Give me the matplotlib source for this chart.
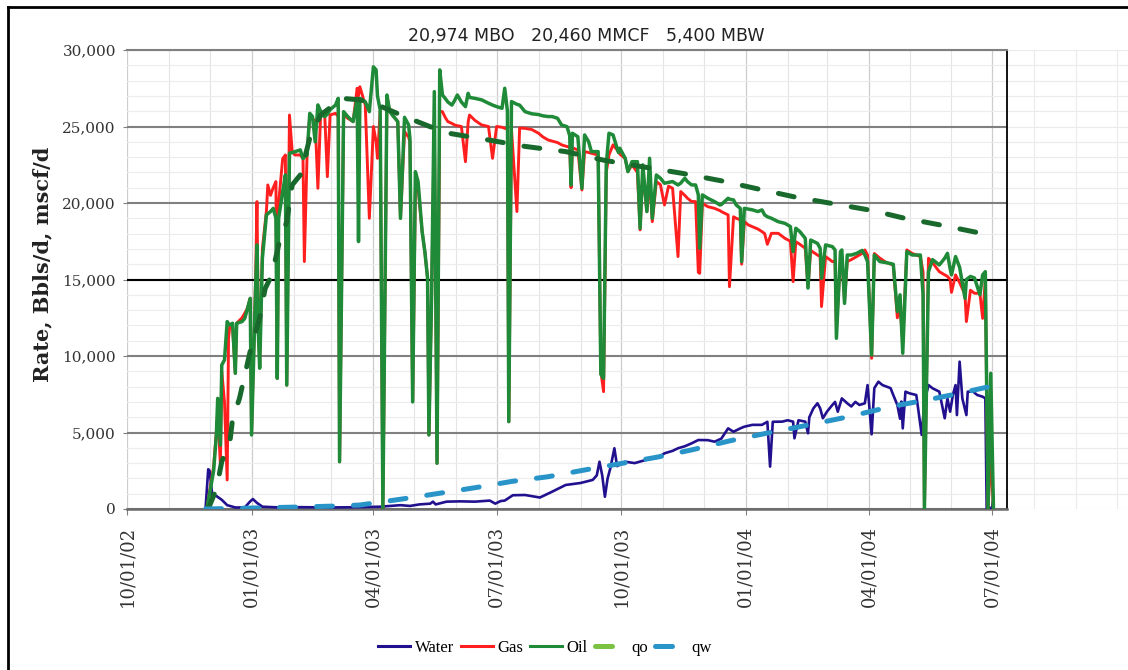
import matplotlib
matplotlib.use('Agg')
import matplotlib.pyplot as plt
import matplotlib.dates as mdates
import pandas as pd
from matplotlib.lines import Line2D
from matplotlib.ticker import MultipleLocator, FuncFormatter

# days counted from 10/01/02
t0 = pd.Timestamp('2002-10-01')

# daily oil / gas rates (same days for both streams)
prod_day = [59, 64, 66, 67, 69, 70, 72, 74, 75, 76, 78, 80, 81, 85, 87, 89, 91, 92, 95, 96,
            97, 98, 100, 103, 104, 106, 108, 110, 111, 112, 115, 117, 118, 120, 122, 124, 128, 130, 131, 133,
            135, 137, 139, 141, 143, 144, 146, 148, 150, 154, 156, 157, 160, 163, 167, 170, 171, 172, 176, 179,
            182, 184, 185, 187, 189, 192, 194, 196, 200, 202, 205, 208, 209, 211, 213, 215, 218, 220, 222, 223,
            225, 227, 229, 231, 233, 235, 237, 240, 242, 244, 247, 250, 252, 253, 257, 262, 267, 270, 273, 277,
            279, 281, 282, 284, 288, 290, 294, 299, 304, 307, 311, 314, 318, 321, 325, 327, 328, 329, 333, 336,
            338, 341, 343, 348, 350, 352, 354, 356, 359, 363, 364, 368, 370, 373, 377, 379, 381, 384, 386, 388,
            391, 394, 397, 400, 403, 407, 409, 412, 414, 417, 420, 422, 423, 425, 429, 434, 438, 439, 444, 445,
            448, 450, 453, 454, 456, 459, 462, 466, 469, 471, 473, 476, 481, 486, 490, 492, 494, 497, 501, 503,
            505, 510, 512, 513, 516, 521, 523, 524, 527, 528, 530, 532, 535, 539, 543, 545, 547, 550, 552, 556,
            561, 566, 569, 571, 573, 576, 580, 586, 588, 589, 592, 595, 600, 604, 606, 608, 609, 612, 615, 619,
            620, 623, 626, 630, 632, 634, 636, 638, 640]
oil_rate = [0, 2500, 4840, 7230, 4180, 9410, 9740, 12250, 12100, 12030, 12140, 8870, 12140, 12250, 12460, 13120, 13770, 4840, 14500, 17260,
            11590, 9200, 16390, 19220, 19300, 19440, 19650, 19000, 8540, 19000, 20740, 21830, 8100, 23250, 23300, 23350, 23470, 22900, 23000, 23140,
            25860, 25650, 24000, 26410, 26000, 25750, 25650, 25800, 26100, 26400, 26840, 3090, 25970, 25650, 25320, 26840, 17480, 26840, 26620, 25970,
            28900, 28700, 27000, 26100, 0, 27060, 26000, 25750, 25320, 19000, 25600, 25100, 24200, 7000, 22050, 21400, 18130, 16820, 15100, 4840,
            14000, 27280, 2990, 28700, 27060, 26840, 26600, 26400, 26700, 27060, 26600, 26300, 27170, 26900, 26840, 26740, 26520, 26400, 26300, 26190,
            27500, 26000, 5710, 26630, 26450, 26400, 25970, 25830, 25780, 25700, 25650, 25650, 25540, 25100, 24990, 24400, 21180, 24560, 24330, 20960,
            24450, 24000, 23360, 23360, 8800, 8540, 22500, 24560, 24450, 23300, 23580, 22920, 22050, 22700, 22700, 18350, 22490, 19440, 22920, 19000,
            21830, 21620, 21290, 21350, 21400, 21180, 21300, 21620, 21400, 21180, 21180, 20530, 17040, 20530, 20310, 20090, 19870, 19900, 20310, 20250,
            20200, 19870, 19650, 16170, 19650, 19600, 19550, 19440, 19550, 19220, 19100, 19000, 18780, 18670, 18460, 16820, 18350, 18130, 17690, 14440,
            17580, 17360, 17040, 15080, 17260, 17150, 16930, 11160, 16820, 16930, 13440, 16600, 16600, 16710, 16900, 16600, 16170, 10070, 16600, 16170,
            16100, 16000, 12900, 14000, 10180, 16820, 16600, 16600, 14000, 0, 15500, 16300, 15950, 16390, 16710, 15700, 15300, 16500, 15800, 13770,
            15000, 15200, 15100, 14000, 15300, 15510, 0, 8870, 0]
gas_rate = [0, 2800, 5000, 6360, 2880, 9000, 7000, 1900, 11160, 12030, 11800, 8870, 12140, 12500, 12800, 13120, 13770, 5000, 15000, 20090,
            12000, 9500, 17000, 19500, 21180, 20500, 21000, 21400, 8540, 20000, 22900, 23140, 8100, 25750, 23360, 23140, 23140, 22900, 16170, 23140,
            25750, 25540, 25300, 20960, 25750, 25800, 25860, 21720, 25750, 25860, 25650, 3090, 25750, 25540, 25320, 27500, 27000, 27600, 26400, 19000,
            25000, 24000, 22920, 26000, 0, 27000, 26000, 25750, 25320, 19000, 24670, 24300, 24000, 7020, 20740, 21000, 18130, 16820, 15100, 4840,
            14000, 25500, 2990, 26000, 25970, 25600, 25320, 25200, 25100, 25050, 25000, 22700, 25300, 25750, 25400, 25100, 25000, 22920, 25000, 24950,
            24880, 24850, 5710, 24800, 19440, 24900, 24880, 24800, 24560, 24330, 24120, 24050, 23950, 23800, 23690, 23650, 21000, 23600, 23470, 20850,
            23360, 23300, 23250, 23140, 9000, 7670, 22000, 23140, 23800, 23360, 23200, 22900, 22050, 22490, 22000, 18240, 22050, 19440, 21620, 18780,
            21400, 21200, 19870, 21100, 20960, 16500, 20750, 20500, 20310, 20100, 20090, 15470, 15400, 19980, 19760, 19650, 19500, 19440, 19220, 14530,
            19100, 19000, 18900, 16000, 18780, 18560, 18450, 18300, 18130, 18000, 17300, 18020, 18020, 17690, 17500, 14860, 17470, 17300, 17040, 14500,
            16900, 16600, 16500, 13230, 16500, 16170, 16200, 11810, 16300, 16390, 13600, 16170, 16300, 16500, 16710, 16930, 16600, 9850, 16700, 16400,
            16100, 15950, 12500, 13200, 11000, 16930, 16700, 16500, 15500, 0, 16390, 16100, 15510, 15300, 15200, 15000, 14160, 15300, 14800, 14000,
            12250, 14300, 14100, 14100, 12460, 15000, 0, 3530, 0]

# daily water rate
water_day = [58, 60, 61, 63, 66, 70, 74, 80, 87, 91, 93, 96, 100, 113, 128, 150, 172, 187, 202, 209,
             216, 224, 226, 228, 236, 246, 257, 268, 272, 276, 279, 285, 294, 305, 314, 324, 335, 344, 347, 349,
             351, 353, 355, 357, 360, 362, 368, 375, 383, 388, 394, 397, 403, 407, 412, 417, 422, 429, 434, 439,
             444, 448, 453, 456, 462, 469, 473, 475, 477, 484, 488, 492, 493, 496, 501, 503, 504, 507, 510, 512,
             514, 517, 521, 523, 525, 528, 532, 535, 538, 541, 545, 547, 550, 552, 555, 558, 564, 566, 569, 571,
             572, 573, 575, 578, 583, 587, 589, 592, 595, 600, 604, 606, 608, 610, 612, 613, 615, 617, 620, 621,
             625, 628, 632, 634, 635, 639, 640]
water_rate = [0, 2600, 2500, 900, 850, 600, 250, 100, 100, 500, 650, 400, 150, 100, 120, 100, 120, 150, 250, 200,
              300, 350, 480, 300, 480, 500, 480, 550, 350, 520, 550, 900, 915, 750, 1130, 1570, 1700, 1900, 2200, 3090,
              2200, 800, 2000, 2660, 3970, 2800, 3090, 3000, 3200, 3310, 3450, 3640, 3800, 3970, 4100, 4290, 4510, 4500, 4400, 4600,
              5270, 5050, 5270, 5380, 5500, 5500, 5700, 2770, 5700, 5710, 5800, 5710, 4620, 5800, 5710, 4950, 6000, 6580, 6910, 6580,
              5930, 6360, 6800, 7000, 6360, 7230, 6910, 6700, 7000, 6800, 6910, 8100, 4880, 7900, 8320, 8100, 7900, 7450, 6800, 5900,
              7020, 5270, 7670, 7560, 7450, 4840, 7000, 8100, 7890, 7670, 5930, 7230, 6360, 7450, 8100, 6140, 9630, 7230, 6140, 7670,
              7670, 7450, 7340, 7230, 0, 100, 800]

# forecast curves
qo_day = [60, 66, 70, 76, 78, 83, 91, 98, 102, 107, 112, 118, 122, 128, 135, 143, 159, 172, 185, 205,
          235, 267, 294, 324, 352, 380, 410, 439, 467, 495, 524, 551, 572, 601, 631, 639]
qo_rate = [0, 1300, 3100, 4400, 5900, 7200, 10300, 12500, 14400, 15300, 17260, 18780, 21180, 21830, 24230, 25750, 26840, 26740, 26410, 25650,
           24600, 24120, 23700, 23360, 22800, 22380, 21940, 21450, 20900, 20360, 19920, 19500, 19050, 18560, 18020, 17800]
qw_day = [58, 91, 128, 157, 172, 203, 231, 259, 284, 311, 338, 366, 391, 417, 445, 475, 504, 534, 564, 591, 615, 637]
qw_rate = [0, 60, 130, 200, 260, 650, 1030, 1420, 1800, 2110, 2550, 2990, 3380, 3860, 4450, 5000, 5500, 6050, 6690, 7130, 7560, 8000]


def to_dates(days):
    return t0 + pd.to_timedelta(days, unit='D')


plt.rcParams['font.family'] = 'DejaVu Serif'

fig = plt.figure(figsize=(11.28, 6.70), dpi=100)

# faint sheet grid continuing to the right of the plot
axr = fig.add_axes([1007 / 1128, 161 / 670, 121 / 1128, 459 / 670], zorder=-1)
axr.set_xlim(to_dates(650), to_dates(739))
axr.set_ylim(0, 30000)
axr.xaxis.set_major_locator(mdates.MonthLocator())
axr.yaxis.set_major_locator(MultipleLocator(1000))
axr.grid(color='#ebebeb', lw=0.8)
for s in axr.spines.values():
    s.set_visible(False)
axr.tick_params(length=0, labelbottom=False, labelleft=False)

ax = fig.add_axes([127 / 1128, 161 / 670, 880 / 1128, 459 / 670])

ax.plot(to_dates(water_day), water_rate, color='#22118f', lw=1.9, zorder=3)
ax.plot(to_dates(prod_day), gas_rate, color='#ff1f1f', lw=2.1, zorder=4)
ax.plot(to_dates(prod_day), oil_rate, color='#1f8a38', lw=2.5, zorder=5)
ax.plot(to_dates(qo_day), qo_rate, color='#18692b', lw=3.6, dashes=(3.2, 4.2),
        dash_capstyle='round', zorder=6)
ax.plot(to_dates(qw_day), qw_rate, color='#2994c8', lw=3.6, dashes=(3.2, 4.2),
        dash_capstyle='round', zorder=6)

ax.set_xlim(to_dates(0), to_dates(650))
ax.set_ylim(0, 30000)

ax.xaxis.set_major_locator(mdates.MonthLocator(bymonth=[1, 4, 7, 10]))
ax.xaxis.set_minor_locator(mdates.MonthLocator())
ax.xaxis.set_major_formatter(mdates.DateFormatter('%m/%d/%y'))
ax.yaxis.set_major_locator(MultipleLocator(5000))
ax.yaxis.set_minor_locator(MultipleLocator(1000))
ax.yaxis.set_major_formatter(FuncFormatter(lambda v, p: f'{v:,.0f}'))

ax.set_axisbelow(True)
ax.grid(which='minor', axis='y', color='#ececec', lw=0.8)
ax.grid(which='minor', axis='x', color='#e4e4e4', lw=0.8)
ax.grid(which='major', axis='x', color='#cdcdcd', lw=0.9)
ax.grid(which='major', axis='y', color='#808080', lw=1.5)
ax.axhline(15000, color='black', lw=1.5, zorder=1)

ax.spines['left'].set_visible(False)
ax.spines['top'].set_color('#808080')
ax.spines['top'].set_linewidth(1.5)
ax.spines['bottom'].set_color('#6b6b6b')
ax.spines['bottom'].set_linewidth(1.8)
ax.spines['right'].set_color('black')
ax.spines['right'].set_linewidth(1.3)

ax.tick_params(axis='y', which='major', length=3, color='#808080', labelsize=11,
               labelcolor='#333333', pad=5)
ax.tick_params(axis='x', which='major', length=4, color='#808080', labelsize=13,
               labelcolor='#333333', pad=8, labelrotation=90)
ax.tick_params(which='minor', length=0)

fig.text(586 / 1128, 1 - 36 / 670, '20,974 MBO   20,460 MMCF   5,400 MBW',
         ha='center', va='center', family='DejaVu Sans', fontsize=12.5, color='#222222')
fig.text(42 / 1128, 1 - 264 / 670, 'Rate, Bbls/d, mscf/d', rotation=90,
         ha='center', va='center', fontsize=15, fontweight='bold', color='#222222')

handles = [
    Line2D([], [], color='#22118f', lw=2.2),
    Line2D([], [], color='#ff1f1f', lw=2.2),
    Line2D([], [], color='#1f8a38', lw=2.2),
    Line2D([], [], color='#7cc242', lw=3.6, dashes=(3.4, 10), dash_capstyle='round'),
    Line2D([], [], color='#2994c8', lw=3.6, dashes=(3.4, 10), dash_capstyle='round'),
]
fig.legend(handles, ['Water', 'Gas', 'Oil', 'qo', 'qw'], loc='center',
           bbox_to_anchor=(545 / 1128, 1 - 648 / 670), ncol=5, frameon=False,
           prop={'family': 'Liberation Serif', 'size': 12}, handlelength=1.9,
           handletextpad=0.3, columnspacing=0.4)

# frame lines along the top and left edge
fig.add_artist(Line2D([8 / 1128, 1], [1 - 7 / 670, 1 - 7 / 670], transform=fig.transFigure,
                      color='black', lw=2))
fig.add_artist(Line2D([8 / 1128, 8 / 1128], [0, 1 - 7 / 670], transform=fig.transFigure,
                      color='black', lw=2))

fig.savefig('out.png', dpi=100, facecolor='white')
